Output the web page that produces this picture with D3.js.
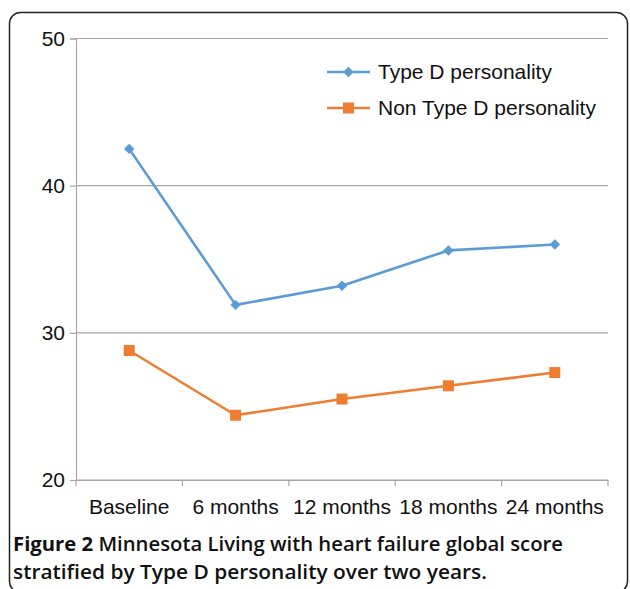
<!DOCTYPE html>
<html><head><meta charset="utf-8">
<script src="https://cdn.jsdelivr.net/npm/d3@7/dist/d3.min.js"></script>
<style>body{margin:0;background:#fff}svg{display:block}</style>
</head><body>
<svg id="c" width="630" height="589"></svg>
<script>
const categories = ["Baseline", "6 months", "12 months", "18 months", "24 months"];
const typeD = [42.5, 31.9, 33.2, 35.6, 36.0];
const nonTypeD = [28.8, 24.4, 25.5, 26.4, 27.3];
const yTicks = [20, 30, 40, 50];
const seriesNames = ["Type D personality", "Non Type D personality"];
const colors = ["#5b9bd5", "#ed7d31"];

const svg = d3.select("#c");
svg.append("rect").attr("x", 9.5).attr("y", 12.5).attr("width", 618).attr("height", 580)
  .attr("rx", 11).attr("fill", "none").attr("stroke", "#222").attr("stroke-width", 1.5);

const L = 76, R = 608, T = 38.5, B = 480;
const x = d3.scaleBand().domain(categories).range([L, R]);
const y = d3.scaleLinear().domain([20, 50]).range([B, T]);
const FF = "Liberation Sans, Arial, sans-serif";

// gridlines
svg.append("g").selectAll("line").data(yTicks).join("line")
  .attr("x1", L).attr("x2", R).attr("y1", d => y(d)).attr("y2", d => y(d))
  .attr("stroke", "#a6a6a6").attr("stroke-width", 1.2);

// y axis
const ya = svg.append("g").attr("transform", `translate(${L},0)`)
  .call(d3.axisLeft(y).tickValues(yTicks).tickSize(6).tickPadding(5));
ya.select(".domain").attr("stroke", "#a6a6a6").attr("stroke-width", 1.2);
ya.selectAll(".tick line").attr("stroke", "#a6a6a6").attr("stroke-width", 1.2);
ya.selectAll("text").attr("font-family", FF).attr("font-size", 21).attr("fill", "#111");

// x axis
const xa = svg.append("g").attr("transform", `translate(0,${B})`)
  .call(d3.axisBottom(x).tickSize(0).tickPadding(19));
xa.select(".domain").attr("stroke", "#a6a6a6").attr("stroke-width", 1.2);
xa.selectAll("text").attr("font-family", FF).attr("font-size", 21).attr("fill", "#111");
const bounds = categories.map(c => x(c)).concat([R]);
svg.append("g").selectAll("line").data(bounds).join("line")
  .attr("x1", d => d).attr("x2", d => d).attr("y1", B).attr("y2", B + 6)
  .attr("stroke", "#a6a6a6").attr("stroke-width", 1.2);

const cx = c => x(c) + x.bandwidth() / 2;
const line = d3.line().x((d, i) => cx(categories[i])).y(d => y(d));
const series = [typeD, nonTypeD];
series.forEach((s, k) => {
  svg.append("path").datum(s).attr("d", line).attr("fill", "none")
    .attr("stroke", colors[k]).attr("stroke-width", 2.6).attr("stroke-linejoin", "round");
});
const diamond = d3.symbol().type(d3.symbolDiamond2).size(70);
svg.append("g").selectAll("path").data(typeD).join("path")
  .attr("d", diamond).attr("fill", colors[0])
  .attr("transform", (d, i) => `translate(${cx(categories[i])},${y(d)})`);
svg.append("g").selectAll("rect").data(nonTypeD).join("rect")
  .attr("x", (d, i) => cx(categories[i]) - 5.5).attr("y", d => y(d) - 5.5)
  .attr("width", 11).attr("height", 11).attr("fill", colors[1]);

// legend
const lg = svg.append("g");
[72, 108].forEach((ly, k) => {
  lg.append("line").attr("x1", 327).attr("x2", 370).attr("y1", ly).attr("y2", ly)
    .attr("stroke", colors[k]).attr("stroke-width", 2.6);
  if (k === 0) lg.append("path").attr("d", diamond).attr("fill", colors[0])
    .attr("transform", `translate(348.5,${ly})`);
  else lg.append("rect").attr("x", 343).attr("y", ly - 5.5).attr("width", 11).attr("height", 11)
    .attr("fill", colors[1]);
  lg.append("text").attr("x", 378).attr("y", ly + 7).text(seriesNames[k])
    .attr("font-family", FF).attr("font-size", 21).attr("fill", "#111");
});

// caption
const cap = svg.append("g").attr("font-family", "Open Sans, sans-serif").attr("font-size", 20).attr("fill", "#111");
const t1 = cap.append("text").attr("x", 13).attr("y", 551).attr("textLength", 550).attr("lengthAdjust", "spacingAndGlyphs");
t1.append("tspan").attr("font-weight", 700).text("Figure 2");
t1.append("tspan").attr("font-weight", 600).text(" Minnesota Living with heart failure global score");
cap.append("text").attr("x", 13).attr("y", 579).attr("font-weight", 600)
  .attr("textLength", 474).attr("lengthAdjust", "spacingAndGlyphs")
  .text("stratified by Type D personality over two years.");
</script>
</body></html>
